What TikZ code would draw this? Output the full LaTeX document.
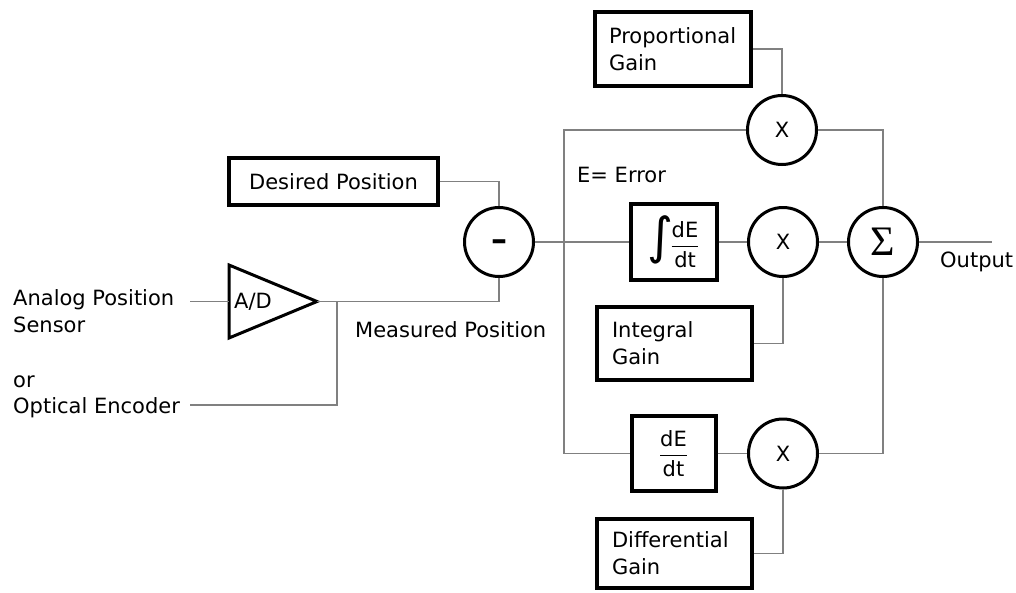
\documentclass[tikz,border=0pt]{standalone}
\usepackage{amsmath}
\usepackage{fontspec}
\setmainfont{DejaVu Sans}
\newfontfamily\serifgreek{Liberation Serif}
\usetikzlibrary{calc}
\newcommand{\dEdt}{$\genfrac{}{}{1.4pt}{0}{\text{dE}}{\text{dt}}$}
\begin{document}
\begin{tikzpicture}[x=1pt,y=-1pt,
  txt/.style={font=\fontsize{21}{27}\selectfont},
  gbox/.style={draw, line width=4pt, inner sep=0pt, align=left, txt},
  op/.style={circle, draw, line width=3pt, minimum size=69pt, inner sep=0pt, txt},
  wire/.style={draw=black!50, line width=1.5pt},
  lbl/.style={txt, inner sep=0pt, anchor=base west}]
\useasboundingbox (0,0) rectangle (1016,592);
% boxes
\node[gbox, minimum width=156pt, minimum height=74pt, text width=128pt] (prop) at (673,49) {Proportional\\Gain};
\node[gbox, minimum width=209pt, minimum height=47pt] (desired) at (333.5,181.5) {Desired Position};
\node[gbox, minimum width=86pt, minimum height=76pt] (integral) at (673.5,242)
  {\fontsize{50}{50}\selectfont\raisebox{-2pt}{∫}\kern-3pt\fontsize{21}{27}\selectfont\dEdt};
\node[gbox, minimum width=155pt, minimum height=73pt, text width=125pt] (intgain) at (674.5,343.5) {Integral\\Gain};
\node[gbox, minimum width=84pt, minimum height=75pt] (deriv) at (673.5,453.5) {\dEdt};
\node[gbox, minimum width=155pt, minimum height=69pt, text width=125pt] (diffgain) at (674.5,553.5) {Differential\\Gain};
% operators
\node[op] (minus) at (499,242) {\fontsize{32}{32}\selectfont\bfseries\raisebox{-0.27em}[0pt][0pt]{–}};
\node[op] (xp) at (782,130) {X};
\node[op] (xi) at (783,242) {X};
\node[op] (xd) at (783,453.5) {X};
\node[op] (sum) at (883,242) {\serifgreek\fontsize{42}{42}\selectfont Σ};
% A/D converter
\coordinate (adl) at (229,301.5);
\coordinate (adtip) at (317,301.5);
\draw[line width=3pt, line join=miter] (229,265) -- (adtip) -- (229,338) -- cycle;
\node[lbl] (ad) at (234,308) {A/D};
% labels
\node[lbl] (analog) at (13,305) {Analog Position};
\node[lbl] (sensor) at (13,332) {Sensor};
\node[lbl] (or) at (13,387) {or};
\node[lbl] (optical) at (13,413) {Optical Encoder};
\node[lbl] (meas) at (355,337) {Measured Position};
\node[lbl] (err) at (577,182) {E= Error};
\node[lbl] (outlbl) at (940,267) {Output};
% coordinates
\coordinate (aw) at (190,301.5);
\coordinate (ow) at (190,405);
\coordinate (oj) at (337,405);
\coordinate (ojt) at (337,301.5);
\coordinate (j) at (564,242);
\coordinate (out) at (992,242);
% wires
\draw[wire] (aw) -- (adl);
\draw[wire] (ow) -- (oj) -- (ojt);
\draw[wire] (adtip) -| (minus.south);
\draw[wire] (desired.east) -| (minus.north);
\draw[wire] (minus.east) -- (integral.west);
\draw[wire] (xp.west) -| (j) |- (deriv.west);
\draw[wire] (prop.east) -| (xp.north);
\draw[wire] (integral.east) -- (xi.west);
\draw[wire] (xi.east) -- (sum.west);
\draw[wire] (sum.east) -- (out);
\draw[wire] (xp.east) -| (sum.north);
\draw[wire] (xd.east) -| (sum.south);
\draw[wire] (deriv.east) -- (xd.west);
\draw[wire] (intgain.east) -| (xi.south);
\draw[wire] (diffgain.east) -| (xd.south);
\end{tikzpicture}
\end{document}
